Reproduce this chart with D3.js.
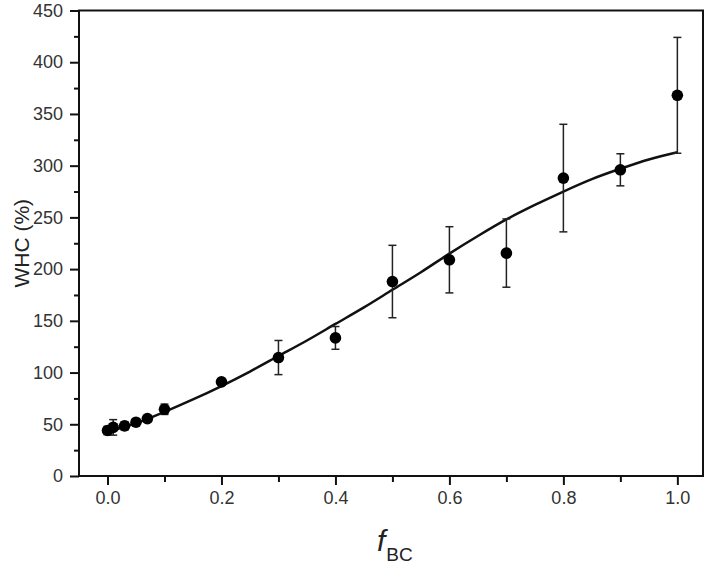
<!DOCTYPE html>
<html>
<head>
<meta charset="utf-8">
<script src="https://cdn.jsdelivr.net/npm/d3@7"></script>
<style>
  html, body { margin: 0; padding: 0; background: #fff; }
  svg { display: block; font-family: "Liberation Sans", Arial, sans-serif; }
</style>
</head>
<body>
<svg id="chart" width="709" height="565"></svg>
<script>
// measured points (fraction of BC vs WHC %)
var fBC = [0.0, 0.01, 0.03, 0.05, 0.07, 0.1, 0.2, 0.3, 0.4, 0.5, 0.6, 0.7, 0.8, 0.9, 1.0];
var whc = [44, 47, 48.5, 52, 55.5, 64.5, 91, 114.5, 133.5, 188, 209, 215.5, 288, 296, 368];
var whcErr = [4, 7.5, 4, 2.5, 2.5, 5, 2, 16.5, 11, 35, 32, 33, 52, 15.5, 56];

// fitted curve
var fitX = [0.0, 0.05, 0.1, 0.15, 0.2, 0.25, 0.3, 0.35, 0.4, 0.45, 0.5, 0.55, 0.6, 0.65, 0.7, 0.75, 0.8, 0.85, 0.9, 0.95, 1.0];
var fitY = [43, 51, 62, 74, 87, 101, 116, 131, 147, 163, 180, 197, 215, 232, 248, 262, 275, 287, 297, 306, 313];

var xTicks = [0.0, 0.2, 0.4, 0.6, 0.8, 1.0];
var xMinorTicks = [0.1, 0.3, 0.5, 0.7, 0.9];
var yTicks = [0, 50, 100, 150, 200, 250, 300, 350, 400, 450];
var yMinorTicks = [25, 75, 125, 175, 225, 275, 325, 375, 425];

var plotLeft = 79, plotRight = 703, plotTop = 10.5, plotBottom = 476;

var svg = d3.select('#chart');

var x = d3.scaleLinear().domain([-0.05, 1.045]).range([plotLeft, plotRight]);
var y = d3.scaleLinear().domain([0, 450]).range([plotBottom, plotTop]);

// frame
svg.append('rect')
    .attr('x', plotLeft).attr('y', plotTop)
    .attr('width', plotRight - plotLeft).attr('height', plotBottom - plotTop)
    .attr('fill', 'none').attr('stroke', '#111').attr('stroke-width', 2);

svg.append('g')
    .attr('transform', 'translate(0,' + plotBottom + ')')
    .call(d3.axisBottom(x).tickValues(xTicks).tickFormat(d3.format('.1f')).tickSizeOuter(0).tickSize(9).tickPadding(6));
svg.append('g')
    .attr('transform', 'translate(0,' + plotBottom + ')')
    .call(d3.axisBottom(x).tickValues(xMinorTicks).tickFormat('').tickSizeOuter(0).tickSize(6));

svg.append('g')
    .attr('transform', 'translate(' + plotLeft + ',0)')
    .call(d3.axisLeft(y).tickValues(yTicks).tickSizeOuter(0).tickSize(9).tickPadding(7));
svg.append('g')
    .attr('transform', 'translate(' + plotLeft + ',0)')
    .call(d3.axisLeft(y).tickValues(yMinorTicks).tickFormat('').tickSizeOuter(0).tickSize(5));

svg.selectAll('.domain').remove();
svg.selectAll('.tick line').attr('stroke', '#111').attr('stroke-width', 2);
svg.selectAll('.tick text')
    .attr('font-size', 18)
    .attr('fill', '#333')
    .attr('font-family', '"Liberation Sans", Arial, sans-serif');

// axis titles
svg.append('text')
    .attr('transform', 'translate(29,' + (plotTop + plotBottom) / 2 + ') rotate(-90)')
    .attr('text-anchor', 'middle')
    .attr('font-size', 21)
    .attr('fill', '#222')
    .text('WHC (%)');

var xt = svg.append('text')
    .attr('x', (plotLeft + plotRight) / 2 - 14)
    .attr('y', 551)
    .attr('fill', '#222');
xt.append('tspan').attr('font-size', 30).attr('font-style', 'italic').text('f');
xt.append('tspan').attr('font-size', 19).attr('dy', 10).attr('dx', 1).text('BC');

// fitted curve
var line = d3.line()
    .x(function(d, i) { return x(fitX[i]); })
    .y(function(d) { return y(d); })
    .curve(d3.curveMonotoneX);

svg.append('path')
    .datum(fitY)
    .attr('d', line)
    .attr('fill', 'none')
    .attr('stroke', '#111')
    .attr('stroke-width', 2.5);

// error bars
var pts = fBC.map(function(f, i) { return {f: f, v: whc[i], e: whcErr[i]}; });

var bars = svg.append('g').selectAll('g').data(pts).enter().append('g')
    .attr('stroke', '#222').attr('stroke-width', 1.5);
bars.append('line')
    .attr('x1', function(d) { return x(d.f); }).attr('x2', function(d) { return x(d.f); })
    .attr('y1', function(d) { return y(d.v - d.e); }).attr('y2', function(d) { return y(d.v + d.e); });
bars.append('line')
    .attr('x1', function(d) { return x(d.f) - 4; }).attr('x2', function(d) { return x(d.f) + 4; })
    .attr('y1', function(d) { return y(d.v + d.e); }).attr('y2', function(d) { return y(d.v + d.e); });
bars.append('line')
    .attr('x1', function(d) { return x(d.f) - 4; }).attr('x2', function(d) { return x(d.f) + 4; })
    .attr('y1', function(d) { return y(d.v - d.e); }).attr('y2', function(d) { return y(d.v - d.e); });

// points
svg.append('g').selectAll('circle').data(pts).enter().append('circle')
    .attr('cx', function(d) { return x(d.f); })
    .attr('cy', function(d) { return y(d.v); })
    .attr('r', 5.8)
    .attr('fill', '#000');
</script>
</body>
</html>
